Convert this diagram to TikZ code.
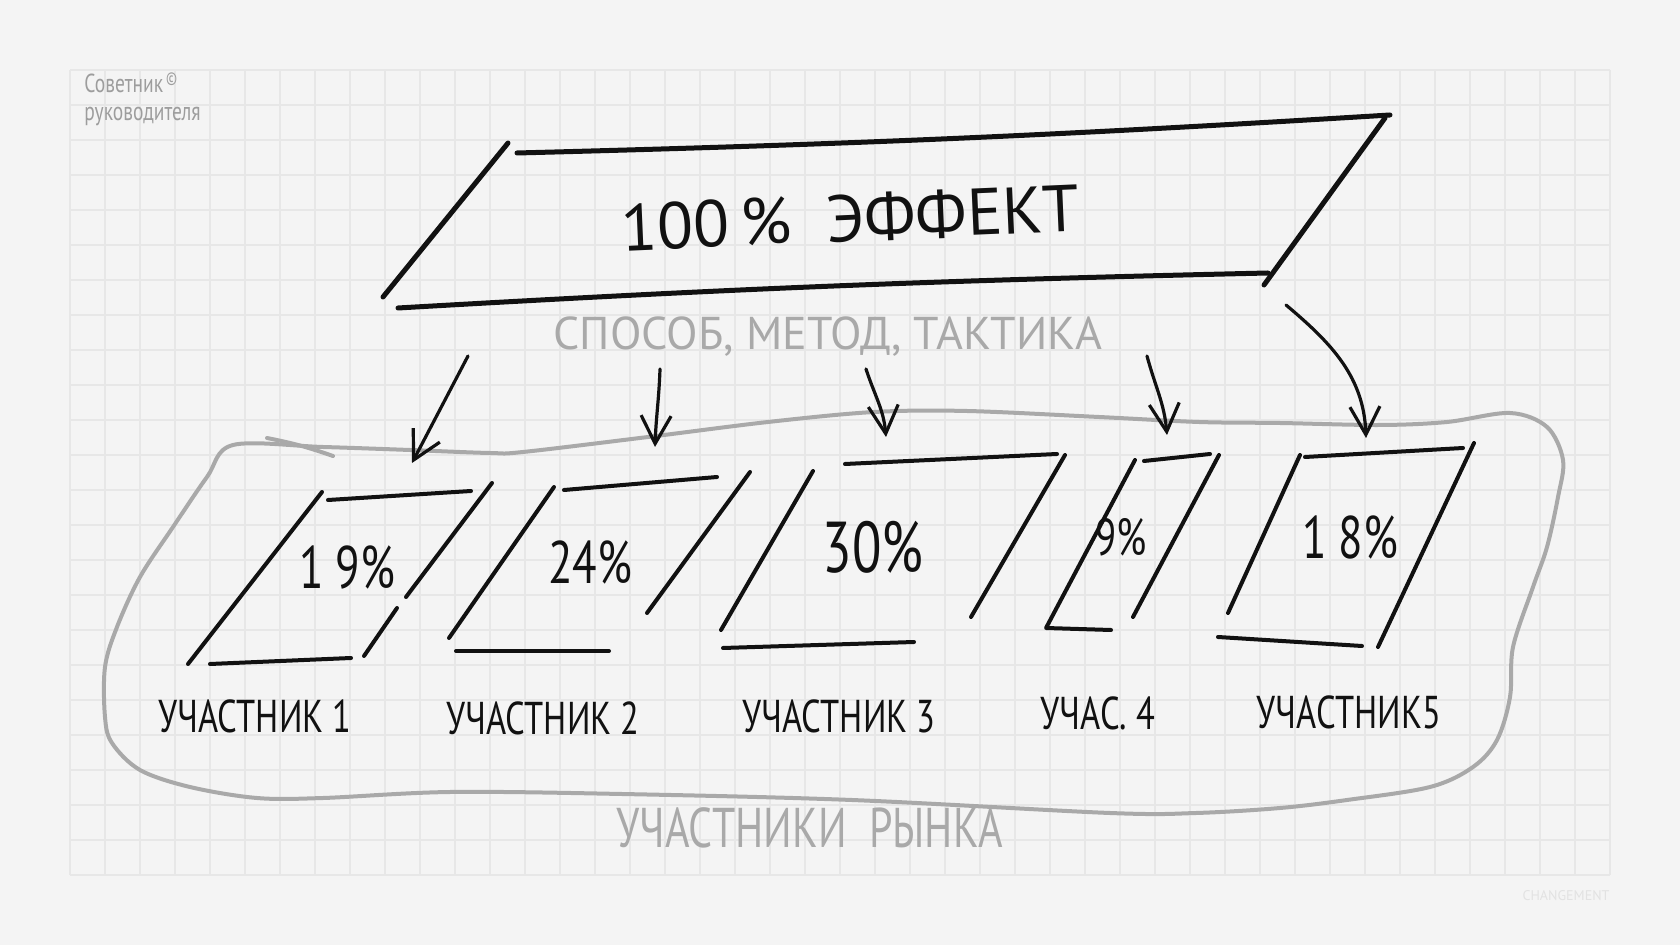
\documentclass[tikz,border=0pt]{standalone}
\usepackage{fontspec}
\setmainfont{PT Sans}
\newfontfamily\hand[FakeStretch=0.75]{PT Sans}
\usetikzlibrary{arrows.meta}
\definecolor{paper}{HTML}{F4F4F4}
\definecolor{gridc}{HTML}{E7E7E7}
\definecolor{pencil}{HTML}{A9A9A9}
\definecolor{brandc}{HTML}{9D9D9D}
\definecolor{faint}{HTML}{E2E2E2}
\definecolor{inkc}{HTML}{111111}

\begin{document}
\begin{tikzpicture}[x=0.5pt, y=-0.5pt, >={Straight Barb[length=14pt,width=15pt]},
    gridline/.style={draw=gridc, line width=0.8pt},
    ink/.style={draw=inkc, line width=2pt, line cap=round, line join=round},
    heavy/.style={ink, line width=2.5pt},
    arr/.style={->, draw=inkc, line width=1.6pt, line cap=round},
    blob/.style={draw=pencil, line width=2pt, line cap=round},
    title/.style={text=inkc, font=\fontsize{33}{36}\selectfont},
    note/.style={text=pencil, font=\fontsize{23}{26}\selectfont},
    pct/.style={text=inkc, font=\hand\fontsize{30}{32}\selectfont},
    lab/.style={text=inkc, font=\hand\fontsize{23}{25}\selectfont}
  ]

  \fill[paper] (0,0) rectangle (1680,945);
  \foreach \gx in {70,105,...,1610} \draw[gridline] (\gx,70) -- (\gx,875);
  \foreach \gy in {70,105,...,875} \draw[gridline] (70,\gy) -- (1610,\gy);

  \node[text=brandc, font=\hand\fontsize{13}{14}\selectfont, anchor=north west, align=left, inner sep=0pt]
    (brand) at (84,72) {Советник\textsuperscript{\,©}\\руководителя};
  \node[text=faint, font=\fontsize{7}{8}\selectfont] (sign) at (1566,896) {CHANGEMENT};

  \draw[heavy] (517,153) to[bend right=1] (1390,115);
  \draw[heavy] (1385,118) -- (1264,285);
  \draw[heavy] (398,308) to[bend left=1] (1268,273);
  \draw[heavy] (508,143) -- (383,297);
  \node[title, rotate=2.5] (effect) at (850,218) {100\,\% \ ЭФФЕКТ};
  \node[note] (method) at (828,337) {СПОСОБ, МЕТОД, ТАКТИКА};

  \draw[blob] plot[smooth cycle, tension=0.55] coordinates {
    (233,445) (323,447) (410,450) (490,453) (523,452) (648,437) (768,422)
    (874,412) (967,411) (1099,417) (1199,422) (1280,423) (1380,425)
    (1447,422) (1510,413) (1547,427) (1563,460) (1558,497) (1547,547)
    (1533,587) (1513,647) (1510,697) (1497,740) (1473,767) (1430,787)
    (1347,800) (1280,808) (1196,813) (1110,813) (852,800) (622,794)
    (450,792) (323,798) (257,798) (190,787) (140,770) (112,743)
    (105,717) (105,667) (117,627) (140,577) (173,527) (207,477)};
  \draw[blob] (267,438) to[bend left=4] (333,456);
  \node[note] (market) at (810,828) {\hand\fontsize{28}{30}\selectfont УЧАСТНИКИ \ РЫНКА};

  \draw[ink] (328,500) -- (471,491);
  \draw[ink] (322,492) -- (188,664);
  \draw[ink] (210,664) -- (351,658);
  \draw[ink] (492,483) -- (406,597);
  \draw[ink] (397,608) -- (364,656);
  \node[pct] (p1) at (347,567) {1 9\%};
  \node[lab] (u1) at (255,716) {УЧАСТНИК 1};

  \draw[ink] (554,487) -- (449,638);
  \draw[ink] (564,490) -- (717,477);
  \draw[ink] (456,651) -- (609,651);
  \draw[ink] (750,472) -- (647,613);
  \node[pct] (p2) at (590,562) {24\%};
  \node[lab] (u2) at (543,718) {УЧАСТНИК 2};

  \draw[ink] (813,471) -- (721,630);
  \draw[ink] (845,464) -- (1057,454);
  \draw[ink] (1065,455) -- (971,617);
  \draw[ink] (723,648) -- (914,642);
  \node[pct, font=\hand\fontsize{36}{38}\selectfont] (p3) at (873,547) {30\%};
  \node[lab] (u3) at (839,716) {УЧАСТНИК 3};

  \draw[ink] (1135,460) -- (1046,628) -- (1111,630);
  \draw[ink] (1144,461) -- (1210,454);
  \draw[ink] (1219,455) -- (1133,617);
  \node[pct, font=\hand\fontsize{26}{28}\selectfont] (p4) at (1121,537) {9\%};
  \node[lab] (u4) at (1098,713) {УЧАС. 4};

  \draw[ink] (1300,455) -- (1228,613);
  \draw[ink] (1305,457) -- (1463,448);
  \draw[ink] (1474,443) -- (1378,647);
  \draw[ink] (1218,637) -- (1362,646);
  \node[pct] (p5) at (1350,537) {1 8\%};
  \node[lab] (u5) at (1349,712) {УЧАСТНИК5};

  \coordinate (s1) at (468,356);  \coordinate (t1) at (412,463);
  \coordinate (s2) at (660,369);  \coordinate (t2) at (655,447);
  \coordinate (s3) at (866,369);  \coordinate (t3) at (886,437);
  \coordinate (s4) at (1147,356); \coordinate (t4) at (1167,435);
  \coordinate (s5) at (1286,305); \coordinate (t5) at (1366,438);
  \draw[arr] (s1) -- (t1);
  \draw[arr] (s2) to[out=-92, in=88] (t2);
  \draw[arr] (s3) to[out=-72, in=95] (t3);
  \draw[arr] (s4) to[out=-75, in=95] (t4);
  \draw[arr] (s5) to[out=-40, in=92] (t5);

\end{tikzpicture}
\end{document}
